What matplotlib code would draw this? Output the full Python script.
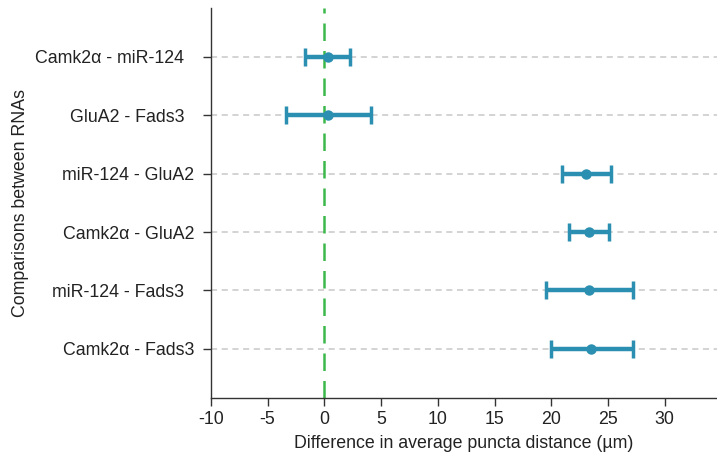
import numpy as np
import matplotlib.pyplot as plt

# data
comparisons = ["Camk2α - miR-124  ", "GluA2 - Fads3  ", "miR-124 - GluA2",
               "Camk2α - GluA2", "miR-124 - Fads3  ", "Camk2α - Fads3"]
mean_diff = [0.3, 0.3, 23.1, 23.3, 23.3, 23.5]
ci_low = [-1.7, -3.4, 20.95, 21.55, 19.55, 19.95]
ci_high = [2.25, 4.1, 25.3, 25.1, 27.2, 27.2]

plt.rcParams['font.family'] = ['Liberation Sans', 'DejaVu Sans']

fig = plt.figure(figsize=(7.17, 4.59), dpi=100)
ax = fig.add_axes([0.294, 0.133, 0.706, 0.85])

y = np.arange(len(comparisons))[::-1]
mean_diff = np.array(mean_diff)
xerr = [mean_diff - np.array(ci_low), np.array(ci_high) - mean_diff]

for yy in y:
    ax.axhline(yy, color='#c8c8c8', linestyle=(0, (4, 3)), linewidth=1.1, zorder=0)

ax.axvline(0, color='#3cb84a', linestyle=(0, (7, 4)), linewidth=1.8, zorder=1)

ax.errorbar(mean_diff, y, xerr=xerr, fmt='o', color='#2a8fb0', ecolor='#2a8fb0',
            elinewidth=3.2, capsize=6.5, capthick=2.5, markersize=6.5, zorder=3)

fs = 12.8
ax.set_yticks(y)
ax.set_yticklabels(comparisons, fontsize=fs, color='#222222')
ax.set_xticks(np.arange(-10, 31, 5))
ax.set_xticklabels([str(v) for v in range(-10, 31, 5)], fontsize=fs, color='#222222')
ax.set_xlim(-10, 34.6)
ax.set_ylim(-0.84, 5.84)

ax.set_xlabel("Difference in average puncta distance (µm)", fontsize=fs, color='#222222', labelpad=5)
ax.set_ylabel("Comparisons between RNAs", fontsize=fs, color='#222222')
ax.yaxis.set_label_coords(-0.36, 0.5)

for side in ['top', 'right']:
    ax.spines[side].set_visible(False)
for side in ['left', 'bottom']:
    ax.spines[side].set_color('#333333')
    ax.spines[side].set_linewidth(1.0)
ax.tick_params(direction='out', length=6, color='#333333', width=1.0)
ax.tick_params(axis='y', pad=6)

plt.savefig("out.png", dpi=100)
